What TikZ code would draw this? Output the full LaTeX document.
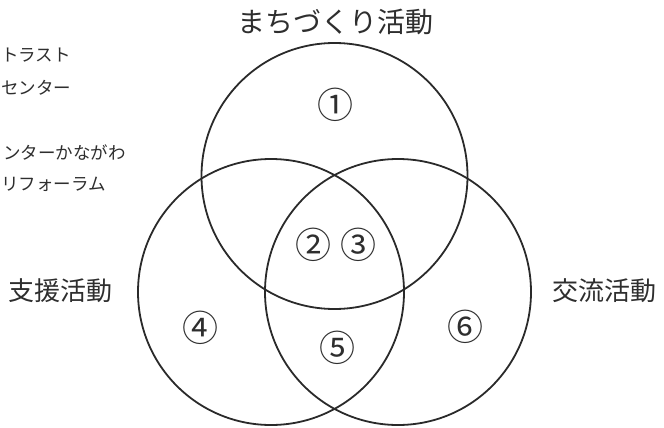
\documentclass[tikz,border=0pt]{standalone}
\usepackage{fontspec}
\newfontfamily\jp{Noto Sans CJK JP}
\definecolor{ink}{HTML}{2A2A2A}
\definecolor{txt}{HTML}{2E2E2E}
\begin{document}
\begin{tikzpicture}[x=1pt,y=-1pt,
  ring/.style={draw=ink,line width=1.8pt},
  biglabel/.style={font=\jp\fontsize{28}{32}\selectfont,text=txt,inner sep=0pt},
  sidelabel/.style={font=\jp\fontsize{26}{30}\selectfont,text=txt,inner sep=0pt},
  num/.style={font=\jp\fontsize{36}{40}\selectfont,text=txt,inner sep=0pt},
  side/.style={font=\jp\fontsize{17.5}{20}\selectfont,text=txt,inner sep=0pt,anchor=west}]
\useasboundingbox (0,0) rectangle (664,428);
% circles
\node[ring,circle,minimum size=266pt,inner sep=0pt] (top) at (334.5,176) {};
\node[ring,circle,minimum size=266pt,inner sep=0pt] (left) at (271,292) {};
\node[ring,circle,minimum size=266pt,inner sep=0pt] (right) at (398,292) {};
% titles
\node[biglabel] (t1) at (335,22) {まちづくり活動};
\node[sidelabel] (t2) at (61,291) {支援活動};
\node[sidelabel] (t3) at (604,291) {交流活動};
% numbers
\node[num] (n1) at (335,105) {①};
\node[num] (n2) at (313,245) {②};
\node[num] (n3) at (358,245) {③};
\node[num] (n4) at (200,328) {④};
\node[num] (n5) at (337,348) {⑤};
\node[num] (n6) at (465,327) {⑥};
% side text
\node[side] (s1) at (1,55) {トラスト};
\node[side] (s2) at (1,88) {センター};
\node[side] (s3) at (3,153) {ンターかながわ};
\node[side] (s4) at (1,184) {リフォーラム};
\end{tikzpicture}
\end{document}
